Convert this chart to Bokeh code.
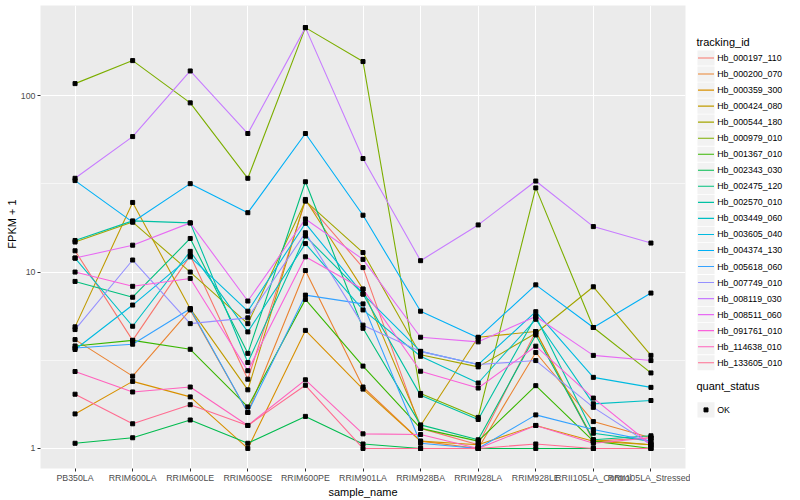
import math
from bokeh.plotting import figure
from bokeh.models import Range1d, FixedTicker, PrintfTickFormatter, ColumnDataSource, AllLabels
from bokeh.layouts import row
from bokeh.embed import file_html
from bokeh.resources import INLINE
from bokeh.core.properties import value

FONT = "Liberation Sans"

samples = ["PB350LA", "RRIM600LA", "RRIM600LE", "RRIM600SE", "RRIM600PE", "RRIM901LA",
           "RRIM928BA", "RRIM928LA", "RRIM928LE", "RRII105LA_Control", "RRII105LA_Stressed"]

tracking_ids = ["Hb_000197_110", "Hb_000200_070", "Hb_000359_300", "Hb_000424_080", "Hb_000544_180",
                "Hb_000979_010", "Hb_001367_010", "Hb_002343_030", "Hb_002475_120", "Hb_002570_010",
                "Hb_003449_060", "Hb_003605_040", "Hb_004374_130", "Hb_005618_060", "Hb_007749_010",
                "Hb_008119_030", "Hb_008511_060", "Hb_091761_010", "Hb_114638_010", "Hb_133605_010"]

colors = ["#F8766D", "#EA8331", "#D89000", "#C09B00", "#A3A500", "#7CAE00", "#39B600", "#00BB4E",
          "#00BF7D", "#00C1A3", "#00BFC4", "#00BAE0", "#00B0F6", "#35A2FF", "#9590FF", "#C77CFF",
          "#E76BF3", "#FA62DB", "#FF62BC", "#FF6C91"]

# FPKM + 1 per sample (same order as samples)
hb_000197_110 = [13.2, 4.1, 12.4, 2.47, 25.3, 10.6, 1.3, 1.05, 4.6, 1.1, 1.15]
hb_000200_070 = [4.14, 2.57, 6.1, 1.6, 10.2, 2.23, 1.1, 1.0, 3.5, 1.42, 1.15]
hb_000359_300 = [1.57, 2.4, 1.96, 1.0, 4.67, 2.17, 1.1, 1.05, 1.35, 1.1, 1.05]
hb_000424_080 = [4.89, 24.8, 6.2, 2.15, 25.8, 8.0, 1.35, 4.27, 4.6, 1.12, 1.05]
hb_000544_180 = [14.8, 19.2, 10.0, 5.1, 25.3, 12.9, 3.4, 2.9, 4.5, 8.25, 3.37]
hb_000979_010 = [117, 158, 91, 34, 243, 156, 2.05, 1.5, 30, 4.85, 2.68]
hb_001367_010 = [3.81, 4.1, 3.65, 1.72, 7.0, 2.93, 1.3, 1.1, 2.27, 1.1, 1.0]
hb_002343_030 = [1.07, 1.15, 1.45, 1.07, 1.52, 1.06, 1.0, 1.0, 1.0, 1.0, 1.0]
hb_002475_120 = [8.85, 7.2, 15.5, 3.46, 32.5, 4.8, 1.36, 1.12, 4.4, 1.12, 1.18]
hb_002570_010 = [15.1, 19.5, 19.0, 3.07, 16.0, 7.5, 2.0, 1.46, 5.6, 1.22, 1.1]
hb_003449_060 = [12.0, 4.93, 13.1, 4.58, 14.5, 6.1, 3.33, 2.35, 5.4, 1.79, 1.87]
hb_003605_040 = [3.64, 6.5, 12.2, 6.0, 18.9, 7.5, 3.55, 2.99, 5.96, 2.53, 2.22]
hb_004374_130 = [33, 19.2, 31.7, 21.7, 61, 21, 6.0, 4.24, 8.46, 4.85, 7.6]
hb_005618_060 = [3.71, 3.9, 6.2, 1.6, 7.4, 6.6, 1.07, 1.0, 1.55, 1.28, 1.1]
hb_007749_010 = [4.72, 11.7, 5.1, 5.5, 16.7, 5.0, 3.55, 2.99, 3.15, 1.71, 1.05]
hb_008119_030 = [34, 58.6, 138, 61, 243, 44, 11.6, 18.5, 32.8, 18.1, 14.6]
hb_008511_060 = [12.0, 14.2, 19.0, 6.85, 20.0, 11.8, 4.27, 4.02, 5.6, 3.37, 3.15]
hb_091761_010 = [10.0, 8.3, 9.2, 2.76, 12.2, 8.0, 2.74, 2.2, 3.8, 1.93, 1.05]
hb_114638_010 = [2.73, 2.09, 2.23, 1.35, 2.45, 1.21, 1.2, 1.0, 1.35, 1.07, 1.15]
hb_133605_010 = [2.03, 1.38, 1.77, 1.35, 2.28, 1.0, 1.0, 1.0, 1.06, 1.0, 1.0]

series = [hb_000197_110, hb_000200_070, hb_000359_300, hb_000424_080, hb_000544_180,
          hb_000979_010, hb_001367_010, hb_002343_030, hb_002475_120, hb_002570_010,
          hb_003449_060, hb_003605_040, hb_004374_130, hb_005618_060, hb_007749_010,
          hb_008119_030, hb_008511_060, hb_091761_010, hb_114638_010, hb_133605_010]

y_ticks = [1, 10, 100]
y_minor = [10 ** 0.5, 10 ** 1.5]

# discrete positions of the samples (1..n), as ggplot places them
pos = list(range(1, len(samples) + 1))

H = 500
YT_W = 17

# y-axis title strip
yt = figure(width=YT_W, height=H, x_range=Range1d(0, YT_W), y_range=Range1d(0, H),
            output_backend="svg", toolbar_location=None, min_border=0,
            x_axis_location=None, y_axis_location=None)
yt.grid.visible = False
yt.outline_line_color = None
yt.background_fill_color = "white"
yt.border_fill_color = "white"
yt.text(x=[11.3], y=[H - 236], text=["FPKM + 1"], angle=math.pi / 2, text_align="center",
        text_baseline="middle", text_font=value(FONT), text_font_size="11px", text_color="black")

p = figure(width=690 - YT_W, height=H,
           x_range=Range1d(0.4, len(samples) + 0.6),
           y_range=Range1d(10 ** -0.1136, 10 ** 2.511), y_axis_type="log",
           output_backend="svg", toolbar_location=None,
           min_border_left=20, min_border_right=5, min_border_top=5, min_border_bottom=20)
p.background_fill_color = "#EBEBEB"
p.border_fill_color = "white"
p.outline_line_color = None

for ids, vals, c in zip(tracking_ids, series, colors):
    src = ColumnDataSource(dict(x=pos, y=vals))
    p.line("x", "y", source=src, line_color=c, line_width=1.1)

all_x = [x for vals in series for x in pos]
all_y = [v for vals in series for v in vals]
p.scatter(all_x, all_y, marker="square", size=4, color="black")

tk = FixedTicker(ticks=y_ticks, minor_ticks=y_minor)
p.yaxis.ticker = tk
p.ygrid.ticker = tk
p.yaxis.formatter = PrintfTickFormatter(format="%d")

xtk = FixedTicker(ticks=pos, minor_ticks=[])
p.xaxis.ticker = xtk
p.xgrid.ticker = xtk
p.xaxis.major_label_overrides = {x: s for x, s in zip(pos, samples)}

for ax in (p.xaxis[0], p.yaxis[0]):
    ax.axis_line_color = None
    ax.major_tick_line_color = "#333333"
    ax.major_tick_out = 3
    ax.major_tick_in = 0
    ax.minor_tick_line_color = None
    ax.major_label_text_font = FONT
    ax.major_label_text_font_size = "8.8px"
    ax.major_label_text_color = "#4D4D4D"
    ax.major_label_standoff = 1
    ax.axis_label_text_font = FONT
    ax.axis_label_text_font_size = "11px"
    ax.axis_label_text_font_style = "normal"
    ax.axis_label_text_color = "black"
    ax.axis_label_standoff = 0
    ax.major_label_policy = AllLabels()

p.xaxis.axis_label = "sample_name"

p.xgrid.grid_line_color = "white"
p.xgrid.grid_line_width = 1.1
p.xgrid.minor_grid_line_color = None
p.ygrid.grid_line_color = "white"
p.ygrid.grid_line_width = 1.1
p.ygrid.minor_grid_line_color = "white"
p.ygrid.minor_grid_line_width = 0.55

# legend panel
leg = figure(width=110, height=H, x_range=Range1d(0, 110), y_range=Range1d(H, 0),
             output_backend="svg", toolbar_location=None, min_border=0,
             x_axis_location=None, y_axis_location=None)
leg.grid.visible = False
leg.outline_line_color = None
leg.background_fill_color = "white"
leg.border_fill_color = "white"

key_y = [56.7 + 17.32 * i for i in range(len(tracking_ids))]
key_src = ColumnDataSource(dict(y=key_y, c=colors, t=tracking_ids))
leg.rect(x=15.5, y="y", width=17, height=16.4, source=key_src, fill_color="#F2F2F2", line_color=None)
leg.segment(x0=7.5, x1=23.5, y0="y", y1="y", source=key_src, line_color="c", line_width=1.1)
leg.text(x=26.7, y="y", text="t", source=key_src, text_baseline="middle", text_align="left",
         text_font=value(FONT), text_font_size="8.8px", text_color="black")
leg.text(x=[6], y=[39.5], text=["tracking_id"], text_baseline="middle", text_align="left",
         text_font=value(FONT), text_font_size="11px", text_color="black")
leg.text(x=[6], y=[410.5], text=["quant_status"], text_baseline="middle", text_align="left",
         text_font=value(FONT), text_font_size="11px", text_color="black")
leg.rect(x=[15.5], y=[436.7], width=17, height=16.4, fill_color="#F2F2F2", line_color=None)
leg.scatter(x=[15.5], y=[436.7], marker="square", size=4, color="black")
leg.text(x=[26.7], y=[436.7], text=["OK"], text_baseline="middle", text_align="left",
         text_font=value(FONT), text_font_size="8.8px", text_color="black")

layout = row(yt, p, leg)
open("out.html", "w").write(file_html(layout, INLINE))
